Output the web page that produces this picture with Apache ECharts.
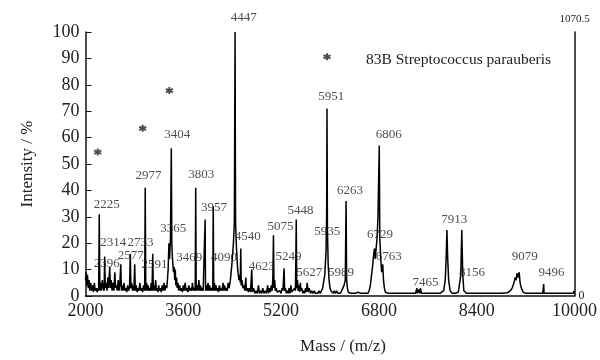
<!DOCTYPE html>
<html>
<head>
<meta charset="utf-8">
<script src="https://cdn.jsdelivr.net/npm/echarts@6/dist/echarts.min.js"></script>
<style>
  html, body { margin: 0; padding: 0; background: #fff; }
  #main { width: 600px; height: 360px; }
</style>
</head>
<body>
<div id="main"></div>
<script>
// tick labels
var xTicks = [2000, 3600, 5200, 6800, 8400, 10000];
var yTicks = [0, 10, 20, 30, 40, 50, 60, 70, 80, 90, 100];

// spectrum: [mass, intensity %]
var spectrum = [
  [2000,6],[2010,9],[2020,4],[2032,8],[2045,3],[2058,6],[2070,2],[2085,5],[2100,2],[2115,4],
  [2130,1.5],[2145,5],[2160,2],[2175,3],[2190,1.5],[2205,3],[2215,2],[2225,31],[2235,2],
  [2250,5],[2262,2],[2275,6],[2290,3],[2305,2],[2314,15],[2324,3],[2340,5],[2352,2],[2365,7],
  [2378,3],[2396,11],[2408,3],[2420,6],[2435,2],[2450,5],[2465,2],[2480,9],[2492,3],[2505,4],
  [2520,2],[2535,6],[2548,2],[2560,4],[2577,12],[2588,2],[2600,4],[2615,2],[2630,5],[2645,2],
  [2660,3],[2675,1.5],[2690,4],[2705,2],[2720,3],[2733,16],[2743,3],[2755,5],[2768,2],[2780,4],
  [2792,2],[2805,12],[2815,2],[2830,4],[2845,1.5],[2860,3],[2875,2],[2890,5],[2905,2],[2920,3],
  [2935,1.5],[2950,4],[2968,2],[2977,41],[2986,2],[3000,5],[3012,2],[3025,4],[3038,2],[3050,3],
  [3062,2],[3075,5],[3088,2],[3100,16],[3110,2],[3122,4],[3135,2],[3148,6],[3160,2],[3172,3],
  [3185,1.5],[3198,4],[3210,2],[3225,3],[3240,1.5],[3255,4],[3270,2],[3285,5],[3300,2],[3315,4],
  [3330,3],[3340,6],[3352,10],[3365,20],[3375,14],[3390,22],[3404,56],[3412,20],[3420,15],
  [3430,12],[3440,9],[3450,11],[3460,6],[3469,10],[3478,4],[3490,7],[3500,3],[3512,5],[3525,2],
  [3540,4],[3555,2],[3570,3],[3585,1.5],[3600,4],[3615,2],[3630,5],[3645,2],[3660,3],[3675,1.5],
  [3690,4],[3705,2],[3720,3],[3735,2],[3750,5],[3765,2],[3785,3],[3795,2],[3803,41],[3811,2],
  [3825,4],[3840,2],[3855,6],[3868,2],[3880,4],[3895,2],[3910,3],[3925,2],[3950,2],[3957,29],
  [3964,2],[3978,4],[3990,2],[4005,5],[4018,2],[4030,4],[4045,2],[4060,3],[4082,2],[4090,34],
  [4098,2],[4110,5],[4122,2],[4135,4],[4148,2],[4160,3],[4175,1.5],[4190,4],[4205,2],[4220,3],
  [4235,2],[4250,5],[4262,2],[4275,4],[4290,2],[4305,3],[4320,2],[4335,5],[4350,3],[4370,6],
  [4395,12],[4420,20],[4435,28],[4447,100],[4455,28],[4470,18],[4490,10],[4510,6],[4525,8],
  [4532,5],[4540,18],[4548,4],[4560,6],[4575,3],[4590,4],[4605,2],[4615,2],[4623,7],[4631,2],
  [4650,3],[4665,1.5],[4680,3],[4700,1.5],[4720,10],[4730,1.5],[4750,3],[4770,1],[4790,2],
  [4810,1],[4830,4],[4845,1],[4865,2],[4885,1],[4900,3],[4920,1],[4940,2],[4960,1],[4980,4],
  [4995,1],[5010,3],[5025,1.5],[5040,4],[5055,2],[5066,8],[5075,23],[5084,3],[5095,6],[5105,2],
  [5120,3],[5135,1.5],[5150,2],[5165,1],[5180,2],[5200,1],[5215,3],[5230,2],[5249,10.5],
  [5258,2],[5270,3],[5285,1],[5300,2],[5315,1],[5330,3],[5345,1],[5360,4],[5375,1.5],[5390,2],
  [5405,1],[5420,3],[5435,2],[5448,29],[5456,3],[5468,6],[5478,2],[5490,4],[5500,1.5],[5515,5],
  [5525,2],[5540,3],[5555,1],[5570,2],[5585,1],[5600,3],[5612,1.5],[5627,5],[5640,1.5],
  [5660,3],[5680,1],[5700,2],[5720,1],[5740,2],[5760,1],[5780,1.5],[5800,1],[5820,2],[5840,1],
  [5860,2],[5880,3],[5900,6],[5915,8],[5935,17],[5945,30],[5951,71],[5958,25],[5970,12],
  [5985,6],[5989,6],[6000,3],[6015,2],[6030,1.5],[6050,1],[6070,2],[6090,1],[6110,2],[6130,1],
  [6150,1.5],[6170,1],[6190,2],[6210,3],[6230,4],[6250,6],[6263,36],[6272,6],[6285,3],
  [6300,1.5],[6320,1],[6340,1],[6360,1],[6380,1],[6400,1],[6420,1],[6440,1],[6460,1.5],
  [6480,1],[6500,1],[6520,1],[6540,1],[6560,1.5],[6580,1],[6600,1],[6620,1],[6640,2],[6660,4],
  [6680,8],[6700,12],[6715,16],[6729,18],[6740,14],[6755,18],[6770,22],[6785,30],[6806,57],
  [6815,22],[6830,14],[6845,9],[6863,12],[6875,6],[6890,3],[6905,1.5],[6920,1],[6950,1],
  [7000,1],[7050,1],[7100,1],[7150,1],[7200,1],[7250,1],[7300,1],[7350,1],[7400,1],[7420,3],
  [7430,1],[7450,2.5],[7465,1],[7480,3],[7495,1],[7520,1],[7560,1],[7600,1],[7650,1],[7700,1],
  [7750,1],[7800,1],[7830,1.5],[7860,2],[7885,6],[7900,14],[7913,25],[7926,14],[7941,6],
  [7965,2],[8000,1],[8050,1],[8100,1.5],[8120,2],[8140,8],[8156,25],[8172,8],[8190,2],
  [8230,1],[8300,1],[8400,1],[8500,1],[8600,1],[8700,1],[8800,1],[8900,1.2],[8950,2],
  [8980,3],[9010,5],[9030,7],[9045,6],[9060,8.6],[9079,7],[9095,9],[9110,5],[9130,3],
  [9160,1.5],[9200,1],[9300,1],[9400,1],[9480,1],[9490,1],[9496,4.5],[9502,1],[9600,1],
  [9700,1],[9800,1],[9900,1],[9950,1],[9985,1],[9990,2],[9995,1],[10000,0.8]
];

// peak labels, anchored where the text sits: [mass, intensity, text]
var peakLabels = [
  [2349,32,'2225'],[2455,17.7,'2314'],[2901,17.7,'2733'],[2349,9.8,'2396'],
  [2740,12.8,'2577'],[3129,9.4,'2591'],[3031,43.2,'2977'],[3437,23,'3365'],
  [3502,58.6,'3404'],[3697,12,'3469'],[3892,43.6,'3803'],[4103,31.2,'3957'],
  [4265,12,'4090'],[4590,103,'4447'],[4655,20,'4540'],[4883,8.6,'4623'],
  [5192,24,'5075'],[5322,12.4,'5249'],[5516,30,'5448'],[5662,6.4,'5627'],
  [5955,21.8,'5935'],[6020,73,'5951'],[6182,6.4,'5989'],[6328,37.6,'6263'],
  [6962,58.6,'6806'],[6816,20.7,'6729'],[6962,12.4,'6763'],[7562,2.6,'7465'],
  [8034,26.3,'7913'],[8324,6.4,'8156'],[9186,12.4,'9079'],[9625,6.4,'9496']
];

// asterisk marks
var starMarks = [[2200,54.5],[2935,63.5],[3372,77.8],[5951,90.6]];

var sampleName = '83B Streptococcus parauberis';
var absMax = '1070.5';

var serif = 'Liberation Serif';
var myChart = echarts.init(document.getElementById('main'));
var option = {
    animation: false,
    title: {
        text: sampleName,
        left: 361,
        top: 47,
        textStyle: { fontFamily: serif, fontSize: 15.5, fontWeight: 'normal', color: '#222' }
    },
    grid: { left: 85.5, right: 22, top: 32, bottom: 62 },
    xAxis: {
        type: 'value',
        min: xTicks[0],
        max: xTicks[xTicks.length - 1],
        interval: xTicks[1] - xTicks[0],
        name: 'Mass / (m/z)',
        nameLocation: 'middle',
        nameGap: 42,
        nameTextStyle: { fontFamily: serif, fontSize: 17, color: '#222', padding: [0, 0, 0, 26] },
        axisLine: { lineStyle: { color: '#111', width: 1.5 } },
        axisTick: { show: false },
        axisLabel: {
            fontFamily: serif, fontSize: 18, color: '#222', margin: 6,
            formatter: function (v) { return String(v); }
        },
        splitLine: { show: false }
    },
    yAxis: [{
        type: 'value',
        min: yTicks[0],
        max: yTicks[yTicks.length - 1],
        interval: yTicks[1] - yTicks[0],
        name: 'Intensity / %',
        nameLocation: 'middle',
        nameGap: 49,
        nameTextStyle: { fontFamily: serif, fontSize: 17, color: '#222' },
        axisLine: { show: true, lineStyle: { color: '#111', width: 1.5 } },
        axisTick: { show: true, inside: true, length: 6, lineStyle: { color: '#111' } },
        axisLabel: { fontFamily: serif, fontSize: 18, color: '#222', margin: 6 },
        splitLine: { show: false }
    }, {
        type: 'value',
        position: 'right',
        min: yTicks[0],
        max: yTicks[yTicks.length - 1],
        interval: 100,
        name: absMax,
        nameLocation: 'end',
        nameGap: 7,
        nameTextStyle: { fontFamily: serif, fontSize: 11, color: '#222' },
        axisLine: { show: true, lineStyle: { color: '#111', width: 1.5 } },
        axisTick: { show: false },
        axisLabel: {
            fontFamily: serif, fontSize: 12, color: '#222', margin: 4,
            formatter: function (v) { return v === 0 ? '0' : ''; }
        },
        splitLine: { show: false }
    }],
    series: [{
        type: 'line',
        data: spectrum,
        symbol: 'none',
        lineStyle: { color: '#000', width: 1.5 },
        z: 3
    }, {
        type: 'scatter',
        data: peakLabels,
        symbolSize: 0,
        clip: false,
        label: {
            show: true,
            position: 'top',
            distance: 0,
            fontFamily: serif,
            fontSize: 13,
            color: '#222',
            formatter: function (p) { return p.value[2]; }
        },
        z: 4
    }, {
        type: 'scatter',
        data: starMarks,
        symbol: 'path://M0,-10L0,10M-8.7,-5L8.7,5M-8.7,5L8.7,-5',
        symbolSize: 7,
        itemStyle: { color: '#222', borderColor: '#222', borderWidth: 2 },
        z: 5
    }]
};
myChart.setOption(option);
</script>
</body>
</html>
